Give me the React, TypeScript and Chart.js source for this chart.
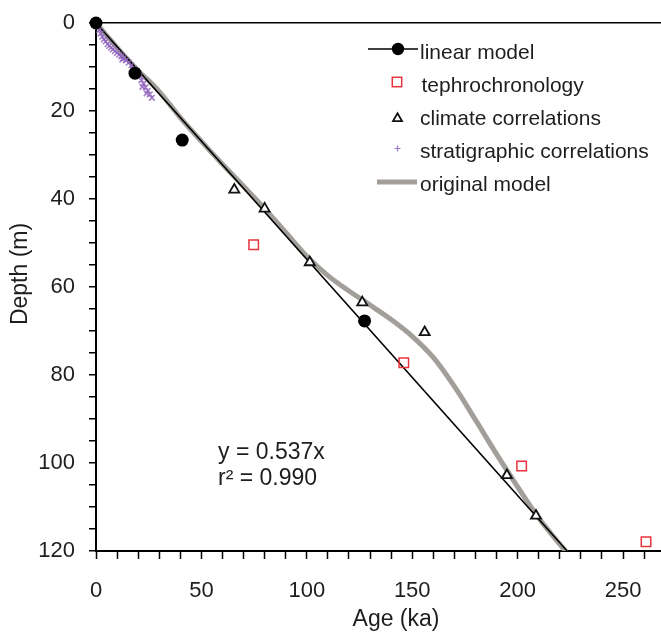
import React, { useEffect, useRef } from 'react';
import { Chart, registerables } from 'chart.js';

Chart.register(...registerables);

const FONT = "'Liberation Sans', Arial, Helvetica, sans-serif";

// ---- data ----
const linearSlope = 0.537;
const linearLineAges = [0, 223.5];

const linearModelAges = [0, 18.5, 40.9, 127.4];
const linearModelDepths = [0, 11.4, 26.6, 67.7];

const tephraAges = [74.8, 146.0, 201.9, 260.9];
const tephraDepths = [50.4, 77.2, 100.7, 117.9];

const climateAges = [65.6, 80.0, 101.4, 126.3, 155.9, 194.9, 208.7];
const climateDepths = [37.9, 42.2, 54.4, 63.5, 70.3, 102.8, 112.0];

const stratAges = [0.8, 1.5, 2.2, 3.0, 3.8, 4.6, 5.5, 6.3, 7.2, 8.0, 9.0, 10.0, 11.0, 12.0, 13.0, 14.2, 15.5, 16.8, 18.0, 19.2, 20.5, 21.5, 22.5, 23.5, 24.5, 25.5, 26.5, 22.0, 24.0, 17.5, 12.5];
const stratDepths = [0.8, 1.6, 2.4, 3.1, 3.7, 4.2, 4.8, 5.2, 5.6, 6.0, 6.4, 6.8, 7.2, 7.6, 8.0, 8.5, 9.0, 9.6, 10.3, 11.0, 12.0, 13.0, 13.8, 14.6, 15.4, 16.2, 17.0, 14.5, 16.0, 10.6, 8.3];

const originalAges = [0, 5, 10, 15, 20, 25, 30, 35, 40, 50, 60, 70, 80, 90, 100, 110, 120, 130, 140, 150, 160, 170, 180, 190, 200, 210, 223];
const originalDepths = [0, 2.8, 5.6, 8.3, 10.9, 13.1, 15.6, 18.5, 21.5, 26.9, 32.1, 37.1, 42.2, 47.6, 53.0, 57.4, 60.9, 64.1, 67.4, 71.2, 76.0, 82.6, 90.2, 98.0, 105.4, 112.5, 120.2];

const ageTickLabels = [0, 50, 100, 150, 200, 250];
const depthTickLabels = [0, 20, 40, 60, 80, 100, 120];

const xTitle = 'Age (ka)';
const yTitle = 'Depth (m)';
const legendLabels = ['linear model', 'tephrochronology', 'climate correlations', 'stratigraphic correlations', 'original model'];
const equationLines = ['y = 0.537x', 'r\u00B2 = 0.990'];

const STRAT_COLOR = 'rgba(145,100,190,0.85)';
const GRAY = '#a29f9b';
const RED = '#e8343c';
const TEXT = '#1e1e1e';

const pts = (xs: number[], ys: number[]) => xs.map((x, i) => ({ x, y: ys[i] }));

export default function App() {
  const ref = useRef<HTMLCanvasElement>(null);

  useEffect(() => {
    const canvas = ref.current;
    if (!canvas) return;

    // make the plot area run to the right edge of the canvas
    const stretch = {
      id: 'stretch',
      afterLayout(chart: any) {
        const x = chart.scales.x;
        const right = chart.width;
        chart.chartArea.right = right;
        chart.chartArea.width = right - chart.chartArea.left;
        x.right = right;
        x.width = right - x.left;
        x.configure();
      },
    };

    const overlay = {
      id: 'overlay',
      afterDraw(chart: any) {
        const ctx = chart.ctx as CanvasRenderingContext2D;
        ctx.save();
        ctx.fillStyle = TEXT;
        ctx.textAlign = 'left';
        ctx.textBaseline = 'alphabetic';
        ctx.font = `21px ${FONT}`;
        const baselines = [59, 92, 125, 158, 191];
        legendLabels.forEach((t, i) => {
          ctx.fillText(t, i === 1 ? 421.5 : 420, baselines[i]);
        });
        // row 1: line + dot
        ctx.strokeStyle = '#000';
        ctx.lineWidth = 1.5;
        ctx.beginPath();
        ctx.moveTo(368, 49);
        ctx.lineTo(418, 49);
        ctx.stroke();
        ctx.fillStyle = '#000';
        ctx.beginPath();
        ctx.arc(398, 49, 6.2, 0, Math.PI * 2);
        ctx.fill();
        // row 2: red square
        ctx.strokeStyle = RED;
        ctx.lineWidth = 1.5;
        ctx.strokeRect(397 - 4.7, 82 - 4.7, 9.4, 9.4);
        // row 3: triangle
        ctx.strokeStyle = '#111';
        ctx.lineWidth = 1.8;
        const r = 5.2;
        const cx = 397.5, cy = 118.5;
        ctx.beginPath();
        for (let k = 0; k < 3; k++) {
          const a = (k * 2 * Math.PI) / 3;
          const px = cx + Math.sin(a) * r;
          const py = cy - Math.cos(a) * r;
          if (k === 0) ctx.moveTo(px, py); else ctx.lineTo(px, py);
        }
        ctx.closePath();
        ctx.stroke();
        // row 4: plus
        ctx.strokeStyle = STRAT_COLOR;
        ctx.lineWidth = 1.2;
        ctx.beginPath();
        ctx.moveTo(397.5 - 3, 148.5);
        ctx.lineTo(397.5 + 3, 148.5);
        ctx.moveTo(397.5, 148.5 - 3);
        ctx.lineTo(397.5, 148.5 + 3);
        ctx.stroke();
        // row 5: gray line
        ctx.strokeStyle = GRAY;
        ctx.lineWidth = 5;
        ctx.beginPath();
        ctx.moveTo(377, 182);
        ctx.lineTo(417, 182);
        ctx.stroke();

        // equation
        ctx.fillStyle = TEXT;
        ctx.font = `23px ${FONT}`;
        ctx.fillText(equationLines[0], 218, 459);
        ctx.fillText(equationLines[1], 218, 485);

        // axis titles
        ctx.font = `23px ${FONT}`;
        ctx.textAlign = 'center';
        ctx.fillText(xTitle, 396, 626);
        ctx.save();
        ctx.translate(27, 274);
        ctx.rotate(-Math.PI / 2);
        ctx.fillText(yTitle, 0, 0);
        ctx.restore();

        ctx.restore();
      },
    };

    const chart = new Chart(canvas, {
      type: 'scatter',
      data: {
        datasets: [
          {
            label: legendLabels[0] + ' points',
            data: pts(linearModelAges, linearModelDepths),
            pointStyle: 'circle',
            pointRadius: 6.5,
            backgroundColor: '#000',
            borderColor: '#000',
            borderWidth: 0,
            clip: false as any,
          },
          {
            label: legendLabels[1],
            data: pts(tephraAges, tephraDepths),
            pointStyle: 'rect',
            pointRadius: 6.7,
            backgroundColor: 'rgba(255,255,255,0)',
            borderColor: RED,
            borderWidth: 1.5,
            clip: false as any,
          },
          {
            label: legendLabels[2],
            data: pts(climateAges, climateDepths),
            pointStyle: 'triangle',
            pointRadius: 5.8,
            backgroundColor: '#fff',
            borderColor: '#111',
            borderWidth: 1.8,
            clip: false as any,
          },
          {
            label: legendLabels[3],
            data: pts(stratAges, stratDepths),
            pointStyle: 'crossRot',
            pointRadius: 4,
            backgroundColor: STRAT_COLOR,
            borderColor: STRAT_COLOR,
            borderWidth: 1.5,
            clip: false as any,
          },
          {
            type: 'line' as any,
            label: legendLabels[0],
            data: linearLineAges.map((a) => ({ x: a, y: linearSlope * a })),
            borderColor: '#000',
            borderWidth: 1.5,
            pointRadius: 0,
            fill: false,
            showLine: true,
          },
          {
            type: 'line' as any,
            label: legendLabels[4],
            data: pts(originalAges, originalDepths),
            borderColor: GRAY,
            borderWidth: 5,
            pointRadius: 0,
            fill: false,
            showLine: true,
            cubicInterpolationMode: 'monotone',
          },
        ] as any,
      },
      options: {
        responsive: false,
        animation: false,
        events: [],
        layout: { padding: { top: 23, left: 0, right: 0, bottom: 0 } },
        plugins: {
          legend: { display: false },
          tooltip: { enabled: false },
          title: { display: false },
        },
        scales: {
          x: {
            type: 'linear',
            position: 'bottom',
            min: 0,
            max: 268,
            bounds: 'data',
            ticks: {
              stepSize: 10,
              includeBounds: false,
              autoSkip: false,
              maxRotation: 0,
              minRotation: 0,
              padding: 19,
              color: TEXT,
              font: { family: FONT, size: 22 },
              callback: (v: any) => (ageTickLabels.includes(Number(v)) ? String(v) : ''),
            },
            afterBuildTicks: (s: any) => {
              s.ticks = s.ticks.filter((t: any) => Math.abs(t.value % 10) < 1e-6);
            },
            afterFit: (s: any) => {
              s.height = 82;
              s.paddingLeft = 0;
              s.paddingRight = 0;
            },
            grid: {
              drawOnChartArea: false,
              drawTicks: true,
              tickLength: 8,
              tickColor: '#000',
              tickWidth: 1.5,
            },
            border: { display: true, color: '#000', width: 2 },
            title: { display: false },
          },
          y: {
            type: 'linear',
            reverse: true,
            min: 0,
            max: 120,
            ticks: {
              stepSize: 5,
              includeBounds: false,
              autoSkip: false,
              padding: 14,
              color: TEXT,
              font: { family: FONT, size: 22 },
              callback: (v: any) => (depthTickLabels.includes(Number(v)) ? String(v) : ''),
            },
            afterFit: (s: any) => {
              s.width = 96;
              s.paddingTop = 0;
              s.paddingBottom = 0;
            },
            grid: {
              drawOnChartArea: true,
              drawTicks: true,
              tickLength: 7,
              color: (c: any) => (c.tick && c.tick.value === 0 ? '#000' : 'rgba(0,0,0,0)'),
              tickColor: '#000',
              lineWidth: 1.5,
              tickWidth: 1.5,
            },
            border: { display: true, color: '#000', width: 2 },
            title: { display: false },
          },
        },
      } as any,
      plugins: [stretch, overlay],
    });

    return () => chart.destroy();
  }, []);

  return (
    <div style={{ position: 'fixed', left: 0, top: 0, width: 661, height: 633, background: '#fff' }}>
      <canvas ref={ref} width={661} height={633} style={{ display: 'block' }} />
    </div>
  );
}
